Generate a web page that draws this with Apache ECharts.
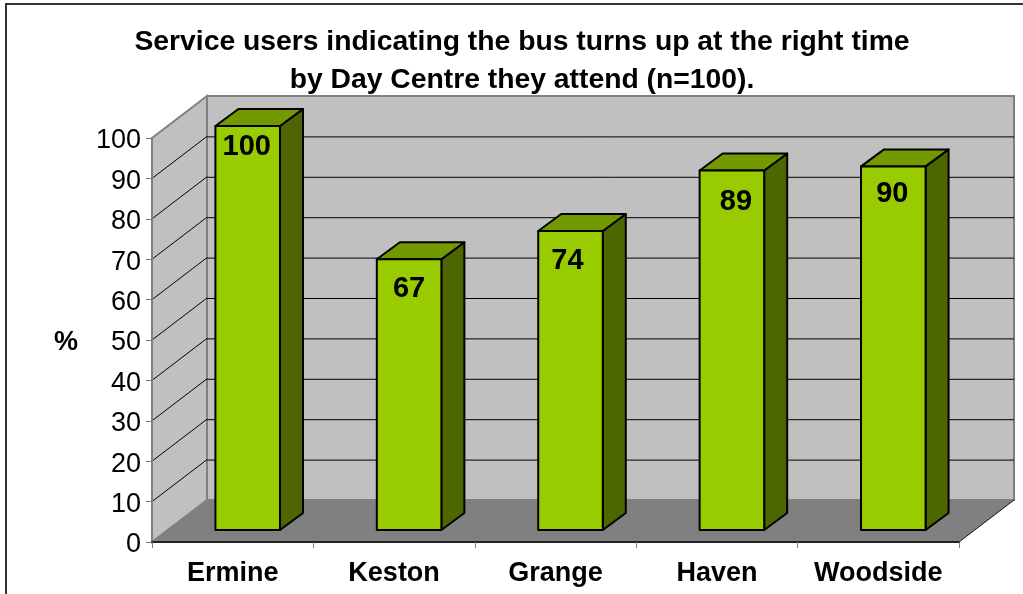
<!DOCTYPE html>
<html><head><meta charset="utf-8">
<style>html,body{margin:0;padding:0;background:#fff}#c{width:1023px;height:594px}</style>
<script src="https://cdn.jsdelivr.net/npm/echarts@6/dist/echarts.min.js"></script>
</head><body><div id="c"></div>
<script>
var categories = ['Ermine','Keston','Grange','Haven','Woodside'];
var values = [100,67,74,89,90];
var tickValues = [0,10,20,30,40,50,60,70,80,90,100];
var titleLines = ['Service users indicating the bus turns up at the right time','by Day Centre they attend (n=100).'];
var labelNudgeX = [-1,0,-3,4,-1];
var labelNudgeY = [21,30,30,32,28];

var wallDX = 55, wallDY = -42, barDX = 15, barDY = -12, depthX = 23, depthY = -17;
var chart = echarts.init(document.getElementById('c'), null, {renderer:'canvas'});

function renderWall(params, api){
  var cs = params.coordSys;
  var v = api.value(0);
  var p = api.coord([0, v]);
  var y = p[1], xL = cs.x, xR = cs.x + cs.width;
  var kids = [];
  if (params.dataIndex === 0){
    var yB = cs.y + cs.height, yT = cs.y;
    kids.push({type:'polygon',shape:{points:[[xL+wallDX,yT+wallDY],[xR+wallDX,yT+wallDY],[xR+wallDX,yB+wallDY],[xL+wallDX,yB+wallDY]]},style:{fill:'#C0C0C0',stroke:'#808080',lineWidth:2}});
    kids.push({type:'polygon',shape:{points:[[xL,yT],[xL+wallDX,yT+wallDY],[xL+wallDX,yB+wallDY],[xL,yB]]},style:{fill:'#C0C0C0',stroke:'#808080',lineWidth:2}});
    kids.push({type:'polygon',shape:{points:[[xL,yB],[xL+wallDX,yB+wallDY],[xR+wallDX,yB+wallDY],[xR,yB]]},style:{fill:'#808080',stroke:'none'}});
    kids.push({type:'line',shape:{x1:xR,y1:yB,x2:xR+wallDX,y2:yB+wallDY},style:{stroke:'#111',lineWidth:1}});
  } else if (v < 100){
    kids.push({type:'line',shape:{x1:xL,y1:y,x2:xL+wallDX,y2:y+wallDY},style:{stroke:'#000',lineWidth:1}});
    kids.push({type:'line',shape:{x1:xL+wallDX,y1:y+wallDY+0.5,x2:xR+wallDX,y2:y+wallDY+0.5},style:{stroke:'#000',lineWidth:1}});
  }
  return {type:'group',children:kids};
}

function renderBar(params, api){
  var i = params.dataIndex;
  var top = api.coord([i, api.value(1)]);
  var base = api.coord([i, 0]);
  var w = api.size([1,0])[0]*0.4;
  var x0 = top[0]+barDX-w/2, x1 = x0+w, yT = top[1]+barDY, yB = base[1]+barDY;
  var st = function(f){return {fill:f,stroke:'#000',lineWidth:2,lineJoin:'round'};};
  return {type:'group',children:[
    {type:'polygon',shape:{points:[[x1,yT],[x1+depthX,yT+depthY],[x1+depthX,yB+depthY],[x1,yB]]},style:st('#4D6600')},
    {type:'polygon',shape:{points:[[x0,yT],[x0+depthX,yT+depthY],[x1+depthX,yT+depthY],[x1,yT]]},style:st('#739900')},
    {type:'rect',shape:{x:x0,y:yT,width:w,height:yB-yT},style:st('#99CC00')},
    {type:'text',style:{text:String(api.value(1)),x:(x0+x1)/2+labelNudgeX[i],y:yT+labelNudgeY[i],align:'center',verticalAlign:'middle',fill:'#000',font:'bold 29px "Liberation Sans"'}}
  ]};
}

chart.setOption({
  animation:false,
  backgroundColor:'#fff',
  textStyle:{fontFamily:'"Liberation Sans"'},
  title:{
    text:titleLines.join('\n'),left:517,top:18,textAlign:'center',
    textStyle:{fontFamily:'"Liberation Sans"',fontWeight:'bold',fontSize:28.3,lineHeight:38,color:'#000'}
  },
  graphic:[{type:'polyline',silent:true,shape:{points:[[6,594],[6,4],[1023,4]]},style:{stroke:'#333',lineWidth:2,fill:'none'}}],
  grid:{left:152,right:64,top:138,bottom:52},
  xAxis:{
    type:'category',data:categories,z:5,
    axisLine:{lineStyle:{color:'#222',width:2}},
    axisTick:{show:true,interval:0,alignWithLabel:false,length:6,lineStyle:{color:'#777',width:1}},
    axisLabel:{interval:0,hideOverlap:false,color:'#000',fontWeight:'bold',fontSize:27,margin:18,fontFamily:'"Liberation Sans"'}
  },
  yAxis:{
    type:'value',min:0,max:100,interval:10,z:5,
    name:'%',nameLocation:'middle',nameRotate:0,nameGap:74,
    nameTextStyle:{color:'#000',fontWeight:'bold',fontSize:27,verticalAlign:'top',lineHeight:6,fontFamily:'"Liberation Sans"'},
    axisLine:{show:true,lineStyle:{color:'#808080',width:2}},
    axisTick:{show:true,length:6,lineStyle:{color:'#777',width:1}},
    axisLabel:{color:'#000',fontSize:27,margin:11,verticalAlign:'top',lineHeight:6,fontFamily:'"Liberation Sans"'},
    splitLine:{show:false}
  },
  series:[
    {type:'custom',name:'walls',silent:true,z:1,clip:false,renderItem:renderWall,encode:{y:0},data:tickValues.map(function(t){return [t];})},
    {type:'custom',name:'Service users',silent:true,z:3,clip:false,renderItem:renderBar,encode:{x:0,y:1},data:values.map(function(v,i){return [i,v];})}
  ]
});
</script></body></html>
